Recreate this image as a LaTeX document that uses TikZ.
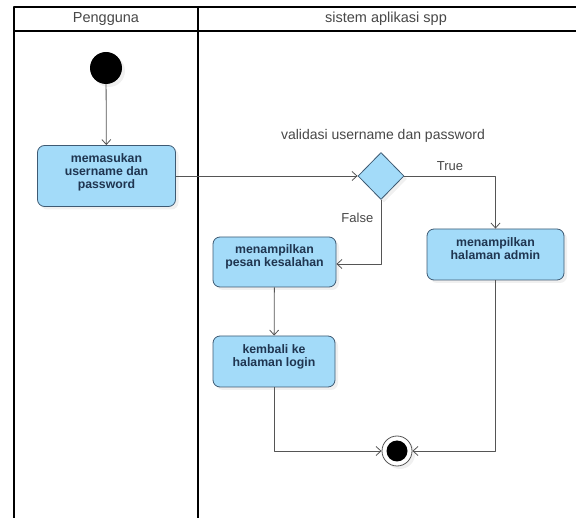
\documentclass[tikz,border=0pt]{standalone}
\usepackage{fontspec}
\setmainfont{Liberation Sans}
\usetikzlibrary{arrows.meta,shapes.geometric,shadows}
\definecolor{actfill}{HTML}{A3DBF9}
\definecolor{actline}{HTML}{3E5A73}
\definecolor{acttext}{HTML}{1F3550}
\definecolor{flowline}{HTML}{555555}
\tikzset{
  activity/.style={draw=actline, fill=actfill, rounded corners=7pt, line width=0.8pt,
    align=center, text=acttext, font=\bfseries\fontsize{12.3}{13}\selectfont,
    drop shadow={opacity=0.12, shadow xshift=3pt, shadow yshift=-3pt}},
  flow/.style={draw=flowline, line width=0.8pt, ->},
  lane/.style={line width=1.6pt, black},
  label/.style={text=black!72, font=\fontsize{13}{14}\selectfont}
}
\begin{document}
\begin{tikzpicture}[>={Straight Barb[length=5pt,width=9pt]}, line join=round, x=1pt, y=-1pt]
    \def\xmax{576} \def\ymax{518}
    \useasboundingbox (0,0) rectangle (\xmax,\ymax);
    % swimlanes
    \draw[lane] (14,\ymax)--(14,7)--(\xmax,7);
    \draw[lane] (14,31)--(\xmax,31);
    \draw[lane] (198,7)--(198,\ymax);
    \node[label, font=\fontsize{14.5}{15}\selectfont] (hpengguna) at (106,19) {Pengguna};
    \node[label, font=\fontsize{14.5}{15}\selectfont] (hsistem) at (386,19) {sistem aplikasi spp};
    % nodes
    \node[circle, fill=black, minimum size=32pt, inner sep=0pt,
      drop shadow={opacity=0.12, shadow xshift=3pt, shadow yshift=-3pt}] (start) at (106,68) {};
    \node[activity, minimum width=138pt, minimum height=61pt] (input) at (106.5,176)
      {memasukan\\username dan\\password\\[-3pt]};
    \node[diamond, draw=actline, fill=actfill, line width=0.8pt, minimum width=46pt,
      minimum height=47pt, inner sep=0pt,
      drop shadow={opacity=0.12, shadow xshift=3pt, shadow yshift=-3pt}] (cek) at (381,176) {};
    \node[label, font=\fontsize{14}{15}\selectfont] (tcek) at (383,136) {validasi username dan password};
    \node[activity, minimum width=137pt, minimum height=51pt] (admin) at (495.5,254.5)
      {menampilkan\\halaman admin\\[-1pt]};
    \node[activity, minimum width=123pt, minimum height=50pt] (pesan) at (274.5,262)
      {menampilkan\\pesan kesalahan\\[-1pt]};
    \node[activity, minimum width=122pt, minimum height=51pt] (kembali) at (274,361.5)
      {kembali ke\\halaman login\\[-1pt]};
    \node[circle, draw=flowline, fill=white, line width=0.8pt, minimum size=30pt, inner sep=0pt,
      drop shadow={opacity=0.12, shadow xshift=3pt, shadow yshift=-3pt}] (end) at (397,451) {};
    \fill[black] (end.center) circle (10.5);
    % connectors
    \draw[flow] (start) -- (input);
    \draw[flow] (input) -- (cek);
    \draw[flow] (cek.east) -| node[label, pos=0.25, above=2pt]{True} (admin.north);
    \draw[flow] (cek.south) |- node[label, pos=0.14, left=4pt]{False} ([yshift=-2pt]pesan.east);
    \draw[flow] (pesan) -- (kembali);
    \draw[flow] (kembali.south) |- (end);
    \draw[flow] (admin.south) |- (end);
\end{tikzpicture}
\end{document}
